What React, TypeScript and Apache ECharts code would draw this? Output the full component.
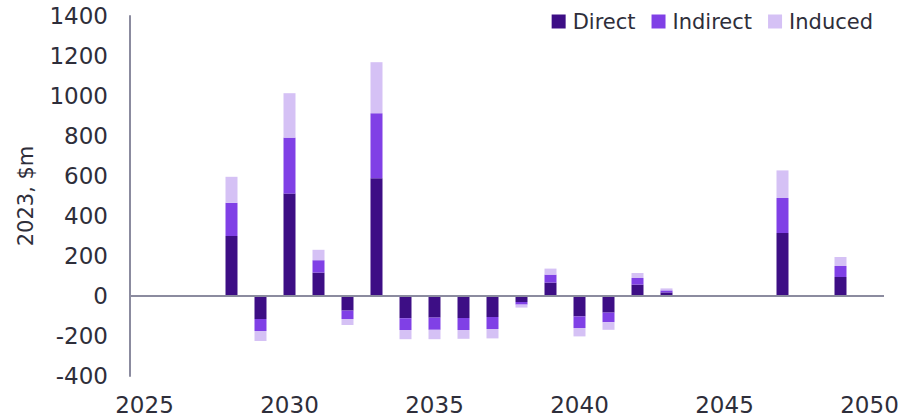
import React, { useEffect, useRef } from "react";
import * as echarts from "echarts";

const years = [
  "2025","2026","2027","2028","2029","2030","2031","2032","2033","2034","2035","2036","2037",
  "2038","2039","2040","2041","2042","2043","2044","2045","2046","2047","2048","2049","2050",
];
const direct = [0, 0, 0, 300, -115, 512, 117, -73, 589, -111, -108, -110, -105, -30, 67, -102, -83, 57, 18, 0, 0, 0, 315, 0, 95, 0];
const indirect = [0, 0, 0, 166, -60, 280, 62, -42, 325, -59, -61, -60, -60, -13, 40, -58, -48, 33, 10, 0, 0, 0, 175, 0, 55, 0];
const induced = [0, 0, 0, 130, -50, 222, 52, -30, 255, -46, -47, -44, -47, -15, 30, -42, -38, 25, 10, 0, 0, 0, 138, 0, 45, 0];

const seriesNames = ["Direct", "Indirect", "Induced"];
const colors = ["#3d0e85", "#8040e6", "#d5c1f5"];

const FONT = "DejaVu Sans";
const TEXT = "#2e2e3a";
const AXIS = "#8b8b9f";

export default function App() {
  const ref = useRef<HTMLDivElement>(null);
  useEffect(() => {
    if (!ref.current) return;
    const chart = echarts.init(ref.current, undefined, { renderer: "svg" });
    const data = [direct, indirect, induced];
    chart.setOption({
      animation: false,
      textStyle: { fontFamily: FONT },
      grid: { left: 130, right: 34, top: 16, bottom: 43 },
      legend: {
        data: seriesNames,
        top: 11,
        right: 45,
        padding: 0,
        itemWidth: 14,
        itemHeight: 14,
        itemGap: 16,
        icon: "rect",
        textStyle: { fontSize: 21, color: TEXT, fontFamily: FONT, padding: [0, 0, 0, 2] },
      },
      xAxis: {
        type: "category",
        data: years,
        boundaryGap: true,
        axisLine: { show: false, onZero: false },
        axisTick: { show: false },
        axisLabel: { interval: 4, fontSize: 23, color: TEXT, margin: 17, fontFamily: FONT },
      },
      yAxis: {
        type: "value",
        min: -400,
        max: 1400,
        interval: 200,
        name: "2023, $m",
        nameLocation: "middle",
        nameGap: 94,
        nameTextStyle: { fontSize: 21, color: TEXT, fontFamily: FONT },
        axisLine: { show: true, lineStyle: { color: AXIS, width: 2 } },
        axisTick: { show: false },
        splitLine: { show: false },
        axisLabel: { fontSize: 23, color: TEXT, margin: 22, fontFamily: FONT, formatter: (v: number) => String(v) },
      },
      series: seriesNames.map((name, i) => ({
        name,
        type: "bar",
        stack: "total",
        barWidth: 12,
        itemStyle: { color: colors[i] },
        data: data[i],
        markLine:
          i === 0
            ? {
                silent: true,
                symbol: "none",
                label: { show: false },
                lineStyle: { color: AXIS, width: 2, type: "solid" },
                data: [{ yAxis: 0 }],
              }
            : undefined,
        z: 2,
      })),
    });
    return () => chart.dispose();
  }, []);
  return (
    <div
      ref={ref}
      style={{ position: "fixed", left: 0, top: 0, width: 918, height: 419, background: "#fff" }}
    />
  );
}
